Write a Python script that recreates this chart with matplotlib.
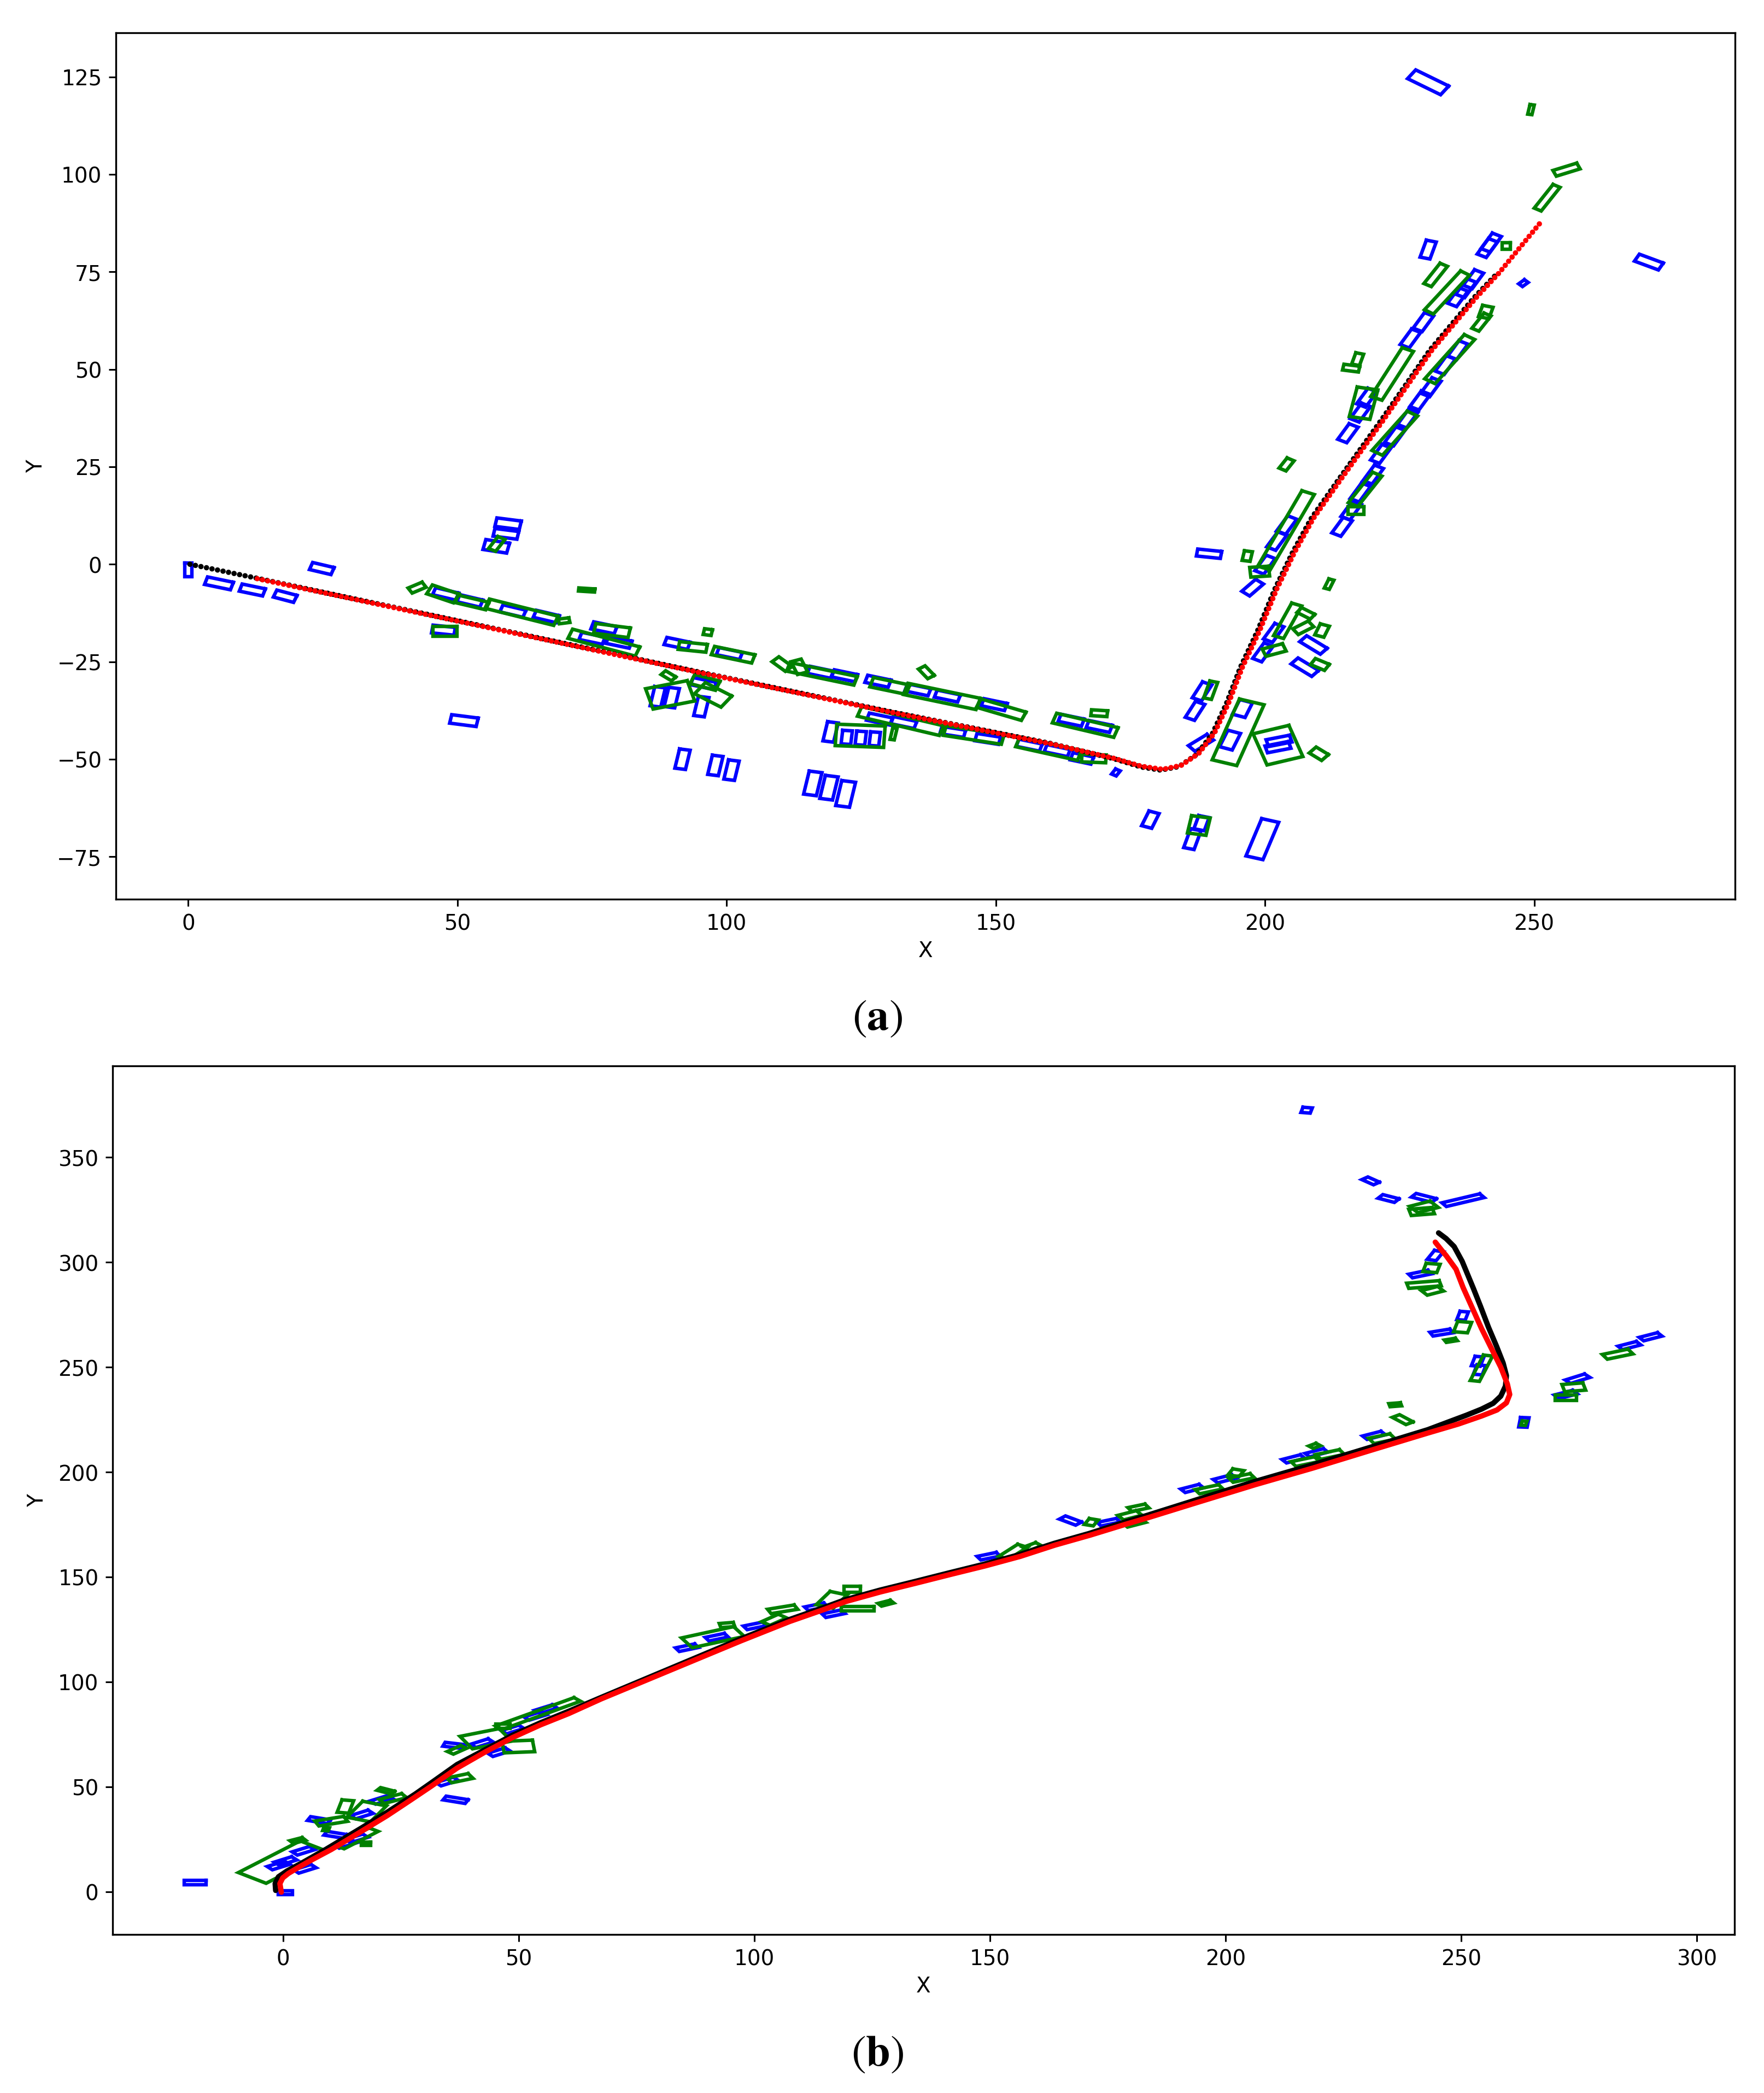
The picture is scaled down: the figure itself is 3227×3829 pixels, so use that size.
import numpy as np
import matplotlib
matplotlib.use("Agg")
import matplotlib.pyplot as plt

# ---------------- data: trajectories (a) ----------------
a_est_x = [12.8, 56.6, 96.8, 130, 160, 172, 177, 181, 184.4, 187.7, 190.6, 193.2, 195.8, 199,
           202.2, 205.5, 209, 214, 222, 231, 239.3, 243.4, 251.2]
a_est_y = [-3.7, -16.5, -28.3, -37.8, -46, -49.8, -51.8, -52.6, -51.6, -48.5, -43.3, -35.7, -26.4,
           -17, -6.3, 3.1, 11.8, 21.6, 37, 54.9, 68.5, 74.6, 87.7]
a_gt_x = [0.3, 12.8, 56.6, 96.8, 130, 160, 172, 177, 180.6, 184.0, 187.3, 190.2, 192.8, 195.4,
          198.6, 201.8, 205.1, 208.6, 213.6, 221.6, 230.6, 238.9, 243.0]
a_gt_y = [0, -3.6, -16.4, -28.2, -37.7, -45.9, -49.9, -52.0, -52.8, -51.9, -48.8, -43.5, -35.8,
          -26.5, -17.1, -6.4, 3.0, 11.8, 21.6, 37, 54.9, 68.5, 74.4]

# boxes: (center x, center y, length, width, heading deg)
a_blue = [
    (0, -1.5, 3.5, 1.4, 90), (5.7, -4.9, 5.0, 2.0, -16), (11.9, -6.6, 4.5, 1.9, -16),
    (18.0, -8.2, 4.0, 1.9, -20), (24.8, -1.1, 4.2, 1.9, -18), (59.4, 10.4, 4.6, 2.2, -10),
    (59.0, 7.8, 4.5, 2.0, -10), (57.2, 4.6, 4.5, 2.6, -12), (47.8, -7.6, 4.5, 1.9, -18),
    (52.3, -9.4, 4.5, 1.9, -18), (60.3, -12.0, 4.5, 1.9, -18), (66.5, -13.4, 4.5, 1.9, -18),
    (47.4, -16.9, 4.2, 2.0, -8), (51.2, -40.1, 5.0, 2.2, -10), (77.2, -16.3, 4.5, 1.9, -16),
    (80.0, -20.0, 4.5, 1.9, -16), (75.0, -19.0, 4.5, 1.9, -16), (90.8, -20.3, 4.5, 1.9, -16),
    (100.5, -22.9, 4.5, 1.9, -16), (87.2, -34.0, 5.0, 2.0, 80), (89.8, -34.2, 5.0, 2.0, 80),
    (95.3, -36.5, 5.0, 2.0, 80), (95.7, -30.6, 4.5, 1.9, -16), (91.8, -50.0, 5.0, 2.0, 80),
    (97.9, -51.6, 5.0, 2.0, 80), (100.9, -52.8, 5.0, 2.0, 80), (116.0, -56.2, 6.0, 2.4, 80),
    (119.0, -57.3, 6.0, 2.4, 80), (122.1, -58.9, 6.5, 2.6, 80), (117.4, -27.7, 4.5, 1.9, -16),
    (121.9, -28.6, 4.5, 1.9, -16), (128.1, -30.0, 4.5, 1.9, -16), (135.5, -32.2, 4.5, 1.9, -16),
    (141.0, -33.8, 4.5, 1.9, -16), (149.7, -36.0, 4.5, 1.9, -16), (164.0, -40.0, 4.5, 1.9, -16),
    (169.2, -41.6, 4.5, 1.9, -16), (128.4, -39.7, 4.5, 1.9, -16), (132.9, -40.6, 4.5, 1.9, -16),
    (119.3, -43.0, 5.0, 2.0, 80), (122.3, -44.4, 3.5, 1.8, 85), (124.9, -44.6, 3.5, 1.8, 85),
    (127.5, -44.8, 3.5, 1.8, 85), (142.0, -43.0, 4.5, 1.9, -12), (148.5, -44.8, 4.5, 1.9, -12),
    (156.2, -46.4, 4.5, 1.9, -16), (161.4, -47.8, 4.5, 1.9, -16), (166.0, -49.8, 4.0, 1.9, -16),
    (172.3, -53.4, 1.5, 1.0, 60), (178.7, -65.5, 4.0, 2.0, 70), (186.5, -70.5, 5.0, 2.0, 75),
    (188.2, -66.4, 3.5, 2.0, 75), (199.5, -70.5, 10.0, 3.3, 73), (189.6, 2.7, 4.5, 1.8, -8),
    (200.0, -0.1, 4.5, 1.9, 62), (202.2, 6.0, 4.5, 1.9, 62), (204.0, 10.0, 4.5, 1.9, 62),
    (197.7, -6.0, 4.0, 1.9, 50), (201.6, -17.6, 4.5, 1.9, 62), (199.6, -22.6, 4.5, 1.9, 62),
    (209.0, -20.7, 5.0, 2.0, -40), (207.4, -26.4, 5.0, 2.0, -40), (188.3, -32.6, 4.5, 1.9, 65),
    (187.0, -37.6, 4.5, 1.9, 65), (188.1, -45.8, 4.5, 1.9, 40), (195.8, -37.0, 4.0, 2.5, 70),
    (193.5, -45.1, 4.5, 2.5, 70), (202.6, -45.3, 4.5, 1.8, 15), (202.4, -46.9, 4.5, 1.8, 15),
    (216.0, 13.8, 4.5, 1.9, 62), (217.7, 18.4, 4.5, 1.9, 62), (220.1, 23.0, 4.5, 1.9, 62),
    (221.5, 28.3, 4.5, 1.9, 62), (224.1, 32.8, 4.5, 1.9, 62), (226.5, 37.4, 4.5, 1.9, 62),
    (228.8, 42.0, 4.5, 1.9, 62), (230.8, 45.4, 4.5, 1.9, 62), (233.5, 51.1, 4.5, 1.9, 62),
    (235.8, 54.9, 4.5, 1.9, 62), (214.3, 9.6, 4.5, 1.9, 62), (215.4, 33.6, 4.5, 1.9, 62),
    (217.7, 38.9, 4.5, 1.9, 62), (218.9, 42.7, 4.5, 1.9, 62), (227.0, 57.9, 4.5, 1.9, 62),
    (229.4, 62.1, 4.5, 1.9, 62), (235.8, 68.5, 4.5, 1.9, 62), (237.3, 70.8, 4.5, 1.9, 62),
    (238.7, 73.1, 4.5, 1.9, 62), (230.3, 80.7, 4.5, 1.9, 75), (241.3, 81.1, 4.5, 1.9, 62),
    (242.0, 82.5, 4.5, 1.9, 62), (248.0, 72.1, 1.5, 1.0, 45), (271.3, 77.5, 5.0, 2.0, -27),
    (230.3, 123.6, 7.4, 2.7, -34),
]
a_green = [
    (42.5, -6.0, 3.0, 1.5, 30), (47.3, -7.6, 5.5, 2.5, -25), (52.7, -9.8, 6.0, 2.0, -18),
    (61.9, -12.3, 13.5, 2.5, -19), (69.8, -14.5, 2.0, 1.2, 10), (74.0, -6.6, 3.0, 0.8, -5),
    (47.7, -17.2, 4.5, 2.5, 0), (57.3, 5.2, 3.5, 1.5, 60), (78.7, -17.0, 6.5, 2.5, -10),
    (77.2, -20.1, 13.3, 2.5, -20), (93.7, -21.2, 5.2, 2.0, -8), (96.5, -17.4, 1.5, 1.5, -10),
    (101.2, -23.2, 7.8, 2.2, -16), (89.5, -33.5, 8.0, 5.4, 15), (89.2, -28.6, 2.5, 1.3, -40),
    (96.0, -30.3, 5.0, 2.5, -20), (97.5, -33.5, 6.0, 3.5, -35), (110.3, -25.6, 3.5, 1.8, -45),
    (113.5, -26.3, 3.5, 2.0, -70), (117.7, -28.1, 13.0, 2.3, -16), (137.1, -27.7, 3.0, 1.5, -55),
    (130.3, -31.2, 7.0, 2.5, -16), (140.0, -33.9, 14.0, 3.0, -16), (151.0, -37.3, 9.0, 2.3, -22),
    (169.2, -38.2, 3.0, 1.5, -5), (166.6, -41.3, 12.0, 2.6, -18), (132.3, -40.2, 16.0, 2.6, -18),
    (124.8, -44.0, 9.0, 5.5, -3), (131.0, -43.5, 3.0, 0.8, 80), (145.9, -43.8, 11.0, 2.5, -12),
    (159.8, -47.3, 12.0, 2.6, -17), (168.2, -49.8, 4.5, 2.0, -3), (203.9, 8.7, 21.0, 2.5, 67),
    (196.7, 2.1, 2.5, 1.5, 80), (199.0, -1.9, 3.5, 2.5, 5), (211.9, -5.1, 2.5, 1.0, 70),
    (204.2, -14.5, 9.0, 2.0, 68), (207.6, -12.6, 3.0, 1.5, -35), (207.1, -16.3, 3.5, 1.8, 35),
    (210.6, -17.0, 3.0, 1.8, 70), (201.7, -22.0, 4.0, 2.0, 20), (210.2, -25.7, 3.0, 1.8, -30),
    (189.9, -32.3, 4.5, 1.5, 75), (195.0, -43.1, 16.4, 4.8, 72), (202.4, -46.4, 7.0, 8.4, 18),
    (210.0, -48.6, 3.0, 2.0, -40), (187.7, -67.0, 4.5, 3.5, 80), (218.3, 41.3, 7.7, 3.9, 79),
    (223.6, 48.8, 13.8, 2.3, 65), (217.2, 52.6, 3.0, 1.5, 75), (216.0, 50.3, 3.0, 1.5, -10),
    (224.1, 33.6, 12.0, 2.3, 57), (218.6, 19.2, 9.0, 2.0, 60), (216.9, 13.8, 3.0, 2.0, 0),
    (204.0, 25.6, 3.0, 1.5, 60), (231.7, 74.2, 6.0, 1.6, 60), (233.8, 69.7, 12.0, 2.0, 56),
    (244.8, 81.6, 1.6, 1.6, 0), (241.0, 64.7, 3.0, 2.0, 75), (240.2, 62.1, 4.5, 1.5, 60),
    (234.3, 52.6, 13.5, 2.3, 57), (249.4, 116.6, 2.5, 0.8, 80), (256.0, 101.2, 4.8, 1.6, 23),
    (252.4, 94.0, 7.0, 1.5, 60),
]

# ---------------- data: trajectories (b) ----------------
b_est_x = [-0.4, -0.7, -0.1, 1.1, 3.1, 6.1, 10.2, 16.2, 22.1, 26.8, 31.5, 36.9, 42.8, 48.7,
           54.6, 60.6, 67.5, 97.2, 107.5, 114.9, 119.4, 126.8, 134.2, 141.6, 149, 156.4, 163.8,
           171.2, 178.6, 183.6, 194.1, 206.3, 218.5, 230.7, 242.9, 249.4, 254.3, 257.6, 259.6,
           260.3, 259.8, 258.4, 256.4, 254.3, 252.2, 250.4, 248.9, 246.8, 245.8, 244.5]
b_est_y = [-0.25, 3.85, 6.55, 8.7, 11.4, 15.2, 20.1, 28.2, 36.3, 43.3, 50.4, 58.9, 66.5, 73.5,
           79.5, 84.9, 91.9, 119.6, 128.8, 134.6, 138.3, 142.9, 147, 151.2, 155.3, 159.8, 165.2,
           169.9, 175.0, 178.3, 185.6, 194.0, 201.9, 210.3, 218.6, 222.9, 226.7, 229.6, 233,
           237, 242, 250, 259, 268.5, 279, 288, 296.7, 303.2, 305.9, 309.6]
b_gt_x = [-1.6, -1.7, -1.0, 0.76, 4.3, 9.0, 16.2, 22.1, 28, 31.5, 36.9, 42.8, 48.7, 54.6, 60.6,
          67.5, 97.0, 107.3, 114.7, 119.2, 126.6, 134, 141.4, 148.8, 156.2, 163.6, 171, 178.4,
          183.4, 194, 206.2, 218.5, 230.7, 242.9, 251.1, 254.3, 256.8, 258.4, 259.4, 259.6,
          258.9, 257.5, 255.8, 254.1, 252.6, 251.4, 250.2, 248.5, 246.8, 245.2]
b_gt_y = [0.6, 3.85, 7.1, 9.8, 14.1, 20.1, 29.8, 37.9, 46.5, 52.0, 60.6, 67.6, 74.6, 80.5, 86,
          92.6, 120.4, 129.6, 135.4, 139.1, 143.7, 147.8, 152, 156.1, 160.6, 166.0, 170.7, 176.0,
          179.4, 186.9, 195.5, 203.5, 211.8, 220.2, 227.1, 230, 232.8, 236.2, 241, 246, 252, 260,
          269, 279, 287.5, 294, 300.5, 307.5, 311.3, 314]

b_blue = [
    (-18.7, 4.3, 4.6, 2.0, 0), (0.5, -0.5, 1.8, 3.0, 90), (-1.0, 12.5, 4.5, 1.9, 35),
    (0.5, 14.6, 4.5, 1.9, 35), (4.3, 19.5, 4.5, 1.9, 35), (4.6, 10.9, 4.5, 1.9, 35),
    (7.6, 34.1, 4.5, 1.9, -20), (11.1, 27.1, 4.5, 1.9, -20), (16.7, 36.8, 4.5, 1.9, 35),
    (20.9, 43.8, 4.5, 1.9, 35), (15.6, 25.4, 4.5, 1.9, 35), (13.2, 22.8, 4.5, 1.9, 35),
    (36.6, 43.8, 5.0, 1.9, -20), (34.8, 52.5, 4.5, 1.9, 35), (36.3, 69.7, 4.5, 1.9, -15),
    (42.2, 70.8, 4.5, 1.9, 35), (45.8, 66.5, 4.5, 1.9, 35), (48.7, 77.3, 4.5, 1.9, 35),
    (53.5, 83.8, 4.5, 1.9, 35), (55.8, 87.0, 4.5, 1.9, 35), (85.7, 116.3, 4.5, 1.9, 25),
    (92.0, 121.3, 4.5, 1.9, 25), (100.1, 126.7, 4.5, 1.9, 25), (113.1, 135.8, 4.5, 1.9, 25),
    (116.8, 132.5, 4.5, 1.9, 25), (149.7, 159.9, 4.5, 1.9, 25), (167.1, 176.9, 4.5, 2.0, -40),
    (175.2, 176.1, 4.5, 1.9, 25), (192.9, 192.2, 4.5, 1.9, 30), (199.8, 196.8, 4.5, 1.9, 30),
    (214.4, 206.3, 4.5, 1.9, 30), (219.3, 209.2, 4.5, 1.9, 30), (231.5, 217.5, 4.5, 1.9, 30),
    (245.8, 266.5, 4.5, 1.9, 20), (250.3, 274.5, 4.0, 1.8, 80), (253.5, 252.8, 4.5, 1.9, 80),
    (253.9, 248.7, 4.5, 1.9, 80), (263.3, 223.7, 4.5, 1.8, 85), (274.7, 244.5, 5.0, 2.0, 35),
    (272.2, 237.0, 4.5, 2.0, 30), (285.7, 260.3, 4.5, 1.9, 30), (290.2, 264.5, 4.5, 1.9, 30),
    (241.3, 294.4, 4.5, 1.9, 25), (244.5, 303.2, 4.5, 2.0, 70), (217.2, 372.5, 2.5, 2.0, 80),
    (230.8, 338.8, 3.5, 1.8, -45), (234.6, 330.4, 4.0, 2.0, -30), (242.1, 330.7, 5.0, 2.0, -30),
    (250.4, 329.6, 9.1, 2.0, 28),
]
b_green = [
    (0.0, 14.1, 20.0, 7.8, 49), (3.1, 24.4, 3.0, 1.5, 30), (13.2, 40.6, 6.0, 2.5, 80),
    (10.2, 33.6, 6.5, 2.5, 20), (9.1, 29.8, 1.5, 1.2, 80), (17.7, 38.2, 8.3, 5.5, 66),
    (15.6, 25.4, 11.0, 2.5, 49), (17.6, 22.8, 2.0, 1.5, 0), (21.8, 48.1, 3.5, 1.5, -30),
    (23.3, 44.4, 5.5, 2.2, 30), (37.5, 54.1, 5.0, 2.5, 25), (36.9, 67.6, 4.0, 1.8, 45),
    (43.0, 72.9, 9.1, 6.5, 24), (49.9, 69.2, 6.5, 5.5, 5), (46.6, 78.9, 3.0, 2.0, 0),
    (54.1, 84.9, 21.4, 2.2, 39), (91.2, 121.3, 12.3, 5.2, 26), (94.2, 127.1, 3.0, 2.0, 10),
    (104.2, 129.6, 5.0, 2.5, 45), (106.0, 134.6, 6.0, 2.2, 20), (116.4, 139.1, 7.0, 4.0, 65),
    (120.8, 144.1, 3.5, 3.0, 0), (121.9, 134.9, 7.0, 2.0, 0), (127.9, 137.5, 3.0, 1.5, 30),
    (154.9, 162.0, 7.0, 2.5, 55), (159.0, 164.5, 3.5, 2.0, 40), (171.5, 176.1, 3.0, 2.0, 70),
    (179.7, 179.4, 4.5, 2.5, 30), (180.5, 176.0, 4.5, 2.5, 30), (181.5, 183.0, 4.0, 2.0, 25),
    (196.5, 191.8, 5.5, 2.2, 25), (203.4, 197.2, 5.0, 2.2, 25), (202.2, 199.7, 3.0, 2.5, 70),
    (216.9, 205.0, 5.5, 2.5, 25), (222.2, 208.4, 5.5, 2.5, 25), (218.9, 212.5, 2.0, 1.5, 40),
    (233.2, 215.9, 5.0, 2.8, 25), (237.6, 225.0, 4.5, 2.0, -50), (236.0, 232.1, 2.5, 1.5, 10),
    (254.3, 249.5, 12.4, 2.0, 77), (250.3, 269.1, 5.0, 3.0, 80), (247.8, 262.8, 2.5, 1.2, 20),
    (263.3, 223.3, 2.0, 1.0, 80), (273.9, 240.4, 4.5, 3.5, 10), (272.2, 235.4, 4.5, 2.5, 0),
    (283.2, 256.2, 6.0, 2.5, 25), (242.1, 289.4, 7.0, 2.5, 10), (243.7, 297.3, 4.0, 3.0, 80),
    (242.1, 326.4, 5.0, 3.5, 30), (241.6, 324.2, 5.0, 3.0, 10), (243.9, 286.4, 4.0, 2.5, 30),
]

a_xticks = [0, 50, 100, 150, 200, 250]
a_yticks = [-75, -50, -25, 0, 25, 50, 75, 100, 125]
b_xticks = [0, 50, 100, 150, 200, 250, 300]
b_yticks = [0, 50, 100, 150, 200, 250, 300, 350]

# ---------------- drawing ----------------
W, H = 3227, 3830
DPI = 100
fig = plt.figure(figsize=(W / DPI, H / DPI), dpi=DPI)

TICK_FS = 28
BOX_LW = 4.6


def draw_boxes(ax, boxes, color):
    for cx, cy, L, Wd, ang in boxes:
        t = np.deg2rad(ang)
        ux, uy = np.cos(t), np.sin(t)
        vx, vy = -np.sin(t), np.cos(t)
        hl, hw = L / 2.0, Wd / 2.0
        xs = [cx + hl * ux + hw * vx, cx - hl * ux + hw * vx, cx - hl * ux - hw * vx,
              cx + hl * ux - hw * vx]
        ys = [cy + hl * uy + hw * vy, cy - hl * uy + hw * vy, cy - hl * uy - hw * vy,
              cy + hl * uy - hw * vy]
        xs.append(xs[0])
        ys.append(ys[0])
        ax.plot(xs, ys, color=color, lw=BOX_LW, solid_joinstyle='miter', zorder=2)


def style_axes(ax, xticks, yticks):
    ax.set_xticks(xticks)
    ax.set_yticks(yticks)
    ax.tick_params(axis='both', labelsize=TICK_FS, length=9.4, width=2.2, pad=9)
    for sp in ax.spines.values():
        sp.set_linewidth(2.4)
    ax.set_xlabel('X', fontsize=TICK_FS, labelpad=8)
    ax.set_ylabel('Y', fontsize=TICK_FS, labelpad=14)


# panel (a)
ax1 = fig.add_axes([212 / W, 1 - 1646 / H, (3174 - 212) / W, (1646 - 61) / H])
draw_boxes(ax1, a_blue, '#0000ff')
draw_boxes(ax1, a_green, '#008000')
ax1.plot(a_gt_x, a_gt_y, color='black', lw=7, linestyle=(0, (0.01, 1.05)),
         dash_capstyle='round', solid_joinstyle='round', zorder=3)
ax1.plot(a_est_x, a_est_y, color='#ff0000', lw=7, linestyle=(0, (0.01, 1.0)),
         dash_capstyle='round', zorder=4)
ax1.set_xlim(-13.45, 287.3)
ax1.set_ylim(-85.9, 136.3)
style_axes(ax1, a_xticks, a_yticks)

# panel (b)
ax2 = fig.add_axes([206 / W, 1 - 3540 / H, (3173 - 206) / W, (3540 - 1951) / H])
draw_boxes(ax2, b_blue, '#0000ff')
draw_boxes(ax2, b_green, '#008000')
ax2.plot(b_gt_x, b_gt_y, color='black', lw=7, solid_capstyle='round',
         solid_joinstyle='round', zorder=3)
ax2.plot(b_est_x, b_est_y, color='#ff0000', lw=7, solid_capstyle='round',
         solid_joinstyle='round', zorder=4)
ax2.set_xlim(-36.2, 308.0)
ax2.set_ylim(-20.4, 393.6)
style_axes(ax2, b_xticks, b_yticks)

fig.text(1605 / W, 1 - 1862 / H, r'$(\mathbf{a})$', fontsize=58, ha='center', va='center',
         math_fontfamily='stix')
fig.text(1605 / W, 1 - 3757 / H, r'$(\mathbf{b})$', fontsize=58, ha='center', va='center',
         math_fontfamily='stix')

fig.savefig('out.png', dpi=DPI, facecolor='white')
